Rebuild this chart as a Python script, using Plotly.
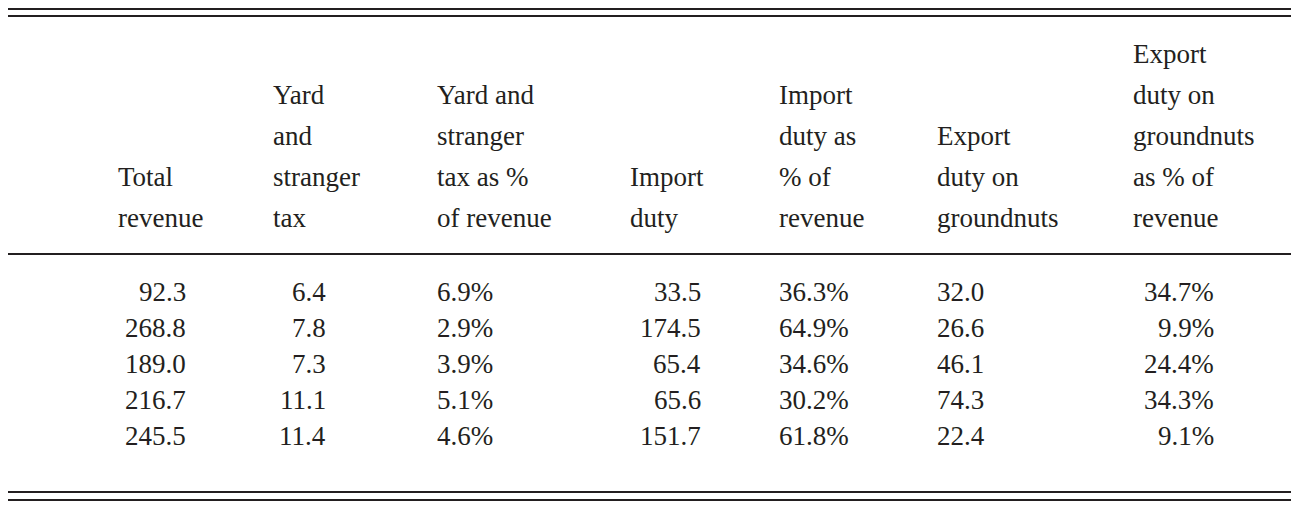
import plotly.graph_objects as go

headers = [
    ["Year"],
    ["Total", "revenue"],
    ["Yard", "and", "stranger", "tax"],
    ["Yard and", "stranger", "tax as %", "of revenue"],
    ["Import", "duty"],
    ["Import", "duty as", "% of", "revenue"],
    ["Export", "duty on", "groundnuts"],
    ["Export", "duty on", "groundnuts", "as % of", "revenue"],
]
years = ["1915", "1920", "1925", "1930", "1935"]
total_revenue = ["92.3", "268.8", "189.0", "216.7", "245.5"]
yard_tax = ["6.4", "7.8", "7.3", "11.1", "11.4"]
yard_pct = ["6.9%", "2.9%", "3.9%", "5.1%", "4.6%"]
import_duty = ["33.5", "174.5", "65.4", "65.6", "151.7"]
import_pct = ["36.3%", "64.9%", "34.6%", "30.2%", "61.8%"]
export_duty = ["32.0", "26.6", "46.1", "74.3", "22.4"]
export_pct = ["34.7%", "9.9%", "24.4%", "34.3%", "9.1%"]

columns = [years, total_revenue, yard_tax, yard_pct, import_duty, import_pct, export_duty, export_pct]
DX, DY = -10, -8
header_x = [5, 118, 273, 437, 630, 779, 937, 1133]
data_x = [5, 190, 330, 437, 705, 779, 937, 1218]
data_align = ["left", "right", "right", "left", "right", "left", "left", "right"]

FONT = dict(family="Liberation Serif, Times New Roman, serif", size=27, color="#231f20")
fig = go.Figure()
ann = []
for hx, lines in zip(header_x, headers):
    n = len(lines)
    for i, t in enumerate(lines):
        y = 218 - 41 * (n - 1 - i)
        ann.append(dict(x=hx + DX, y=y + DY, text=t, showarrow=False, xanchor="left", yanchor="middle", font=FONT))
row_y = [292, 328, 364, 400, 436]
for dx, al, vals in zip(data_x, data_align, columns):
    for y, v in zip(row_y, vals):
        ann.append(dict(x=dx + DX, y=y + DY, text=v, showarrow=False, xanchor=al, yanchor="middle", font=FONT))

shapes = []
for y in [1, 8, 246, 484, 492]:
    shapes.append(dict(type="line", x0=0, x1=1299, y0=y, y1=y, line=dict(color="#231f20", width=2)))

fig.update_layout(
    width=1299, height=508, margin=dict(l=0, r=0, t=0, b=0),
    paper_bgcolor="white", plot_bgcolor="white",
    xaxis=dict(range=[0, 1299], visible=False),
    yaxis=dict(range=[508, 0], visible=False),
    annotations=ann, shapes=shapes, showlegend=False,
)
fig.write_html("out.html")
